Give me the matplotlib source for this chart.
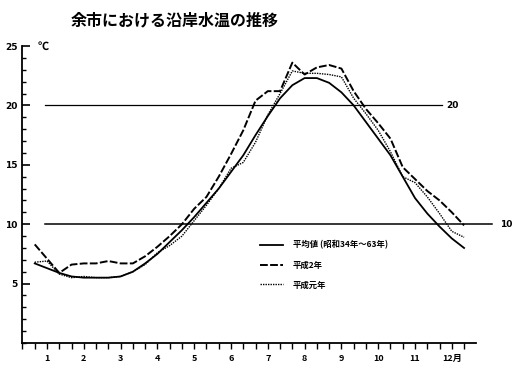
import numpy as np
import matplotlib
matplotlib.use('agg')
import matplotlib.pyplot as plt
from matplotlib.ticker import MultipleLocator, FixedLocator

plt.rcParams['font.family'] = ['Noto Sans CJK JP', 'DejaVu Sans']

# ten-day (旬) positions, 3 per month, January to December
jun = np.arange(36) / 3.0 + 2.0 / 3.0

avg = [6.7, 6.3, 5.9, 5.6, 5.5, 5.5, 5.5, 5.6, 6.0, 6.7, 7.5, 8.5,
       9.5, 10.6, 11.8, 13.0, 14.4, 15.8, 17.5, 19.1, 20.6, 21.7,
       22.3, 22.3, 21.9, 21.1, 20.0, 18.6, 17.2, 15.8, 14.0, 12.2,
       10.9, 9.8, 8.8, 8.0]
h2 = [8.3, 7.1, 5.9, 6.6, 6.7, 6.7, 6.9, 6.7, 6.7, 7.3, 8.1, 9.0,
      10.0, 11.3, 12.3, 14.0, 15.9, 17.9, 20.4, 21.2, 21.2, 23.6,
      22.6, 23.2, 23.4, 23.1, 21.2, 19.7, 18.5, 17.2, 14.8, 13.8,
      12.8, 12.0, 11.0, 9.9]
h1 = [6.8, 6.9, 5.8, 5.5, 5.6, 5.5, 5.5, 5.6, 6.0, 6.6, 7.6, 8.2,
      9.0, 10.3, 11.6, 13.0, 14.7, 15.2, 16.9, 19.2, 21.0, 22.9,
      22.7, 22.7, 22.6, 22.4, 20.6, 19.3, 17.9, 16.1, 14.0, 13.5,
      12.3, 10.9, 9.4, 8.9]

months = list(range(1, 13))
month_labels = ['1', '2', '3', '4', '5', '6', '7', '8', '9', '10', '11', '12月']
legend_labels = ['平均値 (昭和34年～63年)', '平成2年', '平成元年']

fig = plt.figure(figsize=(5.2, 3.66), dpi=100)
ax = fig.add_axes([22/520, 23/366, 498/520, 297/366])
ax.set_xlim(0.3207, 13.853)
ax.set_ylim(0, 25)

# reference lines at 10 and 20 deg
ax.plot([0.95, 13.1], [10, 10], color='black', lw=1.1)
ax.plot([0.95, 11.73], [20, 20], color='black', lw=0.9)
ax.text(11.85, 20, '20', fontsize=6.5, fontweight='bold', va='center', ha='left', family='DejaVu Sans')
ax.text(13.3, 10, '10', fontsize=6.5, fontweight='bold', va='center', ha='left', family='DejaVu Sans')

l0, = ax.plot(jun, avg, color='black', lw=1.3)
l1, = ax.plot(jun, h2, color='black', lw=1.4, dashes=(4, 1.2))
l2, = ax.plot(jun, h1, color='black', lw=1.0, dashes=(1, 0.8))

for s in ['top', 'right']:
    ax.spines[s].set_visible(False)
ax.spines['bottom'].set_bounds(0.3207, 12.65)
ax.spines['left'].set_linewidth(1.3)
ax.spines['bottom'].set_linewidth(1.3)

ax.xaxis.set_major_locator(FixedLocator(months))
ax.set_xticklabels(month_labels, fontsize=6.5, fontweight='bold')
ax.xaxis.set_minor_locator(FixedLocator([m / 3.0 for m in range(1, 38) if m % 3 != 0]))
ax.tick_params(axis='x', which='both', direction='out', length=4, width=1, pad=4)

ax.yaxis.set_major_locator(FixedLocator([5, 10, 15, 20, 25]))
ax.set_yticklabels(['5', '10', '15', '20', '25'], fontsize=6.5, fontweight='bold', family='DejaVu Sans')
ax.yaxis.set_minor_locator(MultipleLocator(1))
ax.tick_params(axis='y', which='major', direction='in', length=6, width=1.2, pad=3)
ax.tick_params(axis='y', which='minor', direction='in', length=3, width=1)

ax.text(0.75, 25, '℃', fontsize=8, fontweight='bold', va='center', ha='left')

fig.text(175/520, 1 - 20/366, '余市における沿岸水温の推移', fontsize=11.5, fontweight='bold',
         ha='center', va='center')

leg = fig.legend([l0, l1, l2], legend_labels, loc='center left',
                 bbox_to_anchor=(252/520, 1 - 265/366), frameon=False,
                 prop={'size': 6, 'weight': 'bold'}, handlelength=2.8,
                 labelspacing=1.3, handletextpad=1.2)

fig.savefig('out.png', dpi=100)
